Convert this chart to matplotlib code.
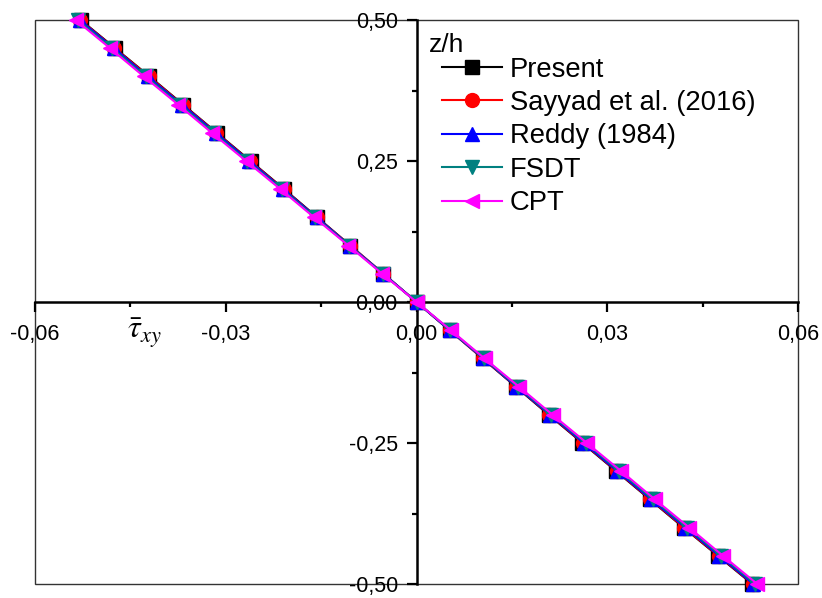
import numpy as np
import matplotlib
matplotlib.use('Agg')
import matplotlib.pyplot as plt
from matplotlib.ticker import FuncFormatter, MultipleLocator
from matplotlib.patches import Rectangle

plt.rcParams['font.family'] = ['Liberation Sans', 'DejaVu Sans']
plt.rcParams['mathtext.fontset'] = 'stix'

# thickness coordinate z/h
z = [0.50, 0.45, 0.40, 0.35, 0.30, 0.25, 0.20, 0.15, 0.10, 0.05, 0.00,
     -0.05, -0.10, -0.15, -0.20, -0.25, -0.30, -0.35, -0.40, -0.45, -0.50]

# shear stress tau_xy for each theory
present = [-0.0528, -0.0474, -0.0420, -0.0367, -0.0314, -0.0261, -0.0208, -0.0156, -0.0104, -0.0052, 0.0,
           0.0052, 0.0104, 0.0156, 0.0208, 0.0261, 0.0314, 0.0367, 0.0420, 0.0474, 0.0528]
sayyad = [-0.0529, -0.0475, -0.0421, -0.0368, -0.0315, -0.0262, -0.0209, -0.0157, -0.0104, -0.0052, 0.0,
          0.0052, 0.0104, 0.0157, 0.0209, 0.0262, 0.0315, 0.0368, 0.0421, 0.0475, 0.0529]
reddy = [-0.0530, -0.0476, -0.0423, -0.0369, -0.0316, -0.0263, -0.0210, -0.0157, -0.0105, -0.0052, 0.0,
         0.0052, 0.0105, 0.0157, 0.0210, 0.0263, 0.0316, 0.0369, 0.0423, 0.0476, 0.0530]
fsdt = [-0.0533, -0.0479, -0.0426, -0.0372, -0.0319, -0.0266, -0.0212, -0.0159, -0.0106, -0.0053, 0.0,
        0.0053, 0.0106, 0.0159, 0.0212, 0.0266, 0.0319, 0.0372, 0.0426, 0.0479, 0.0533]
cpt = [-0.0536, -0.0482, -0.0429, -0.0375, -0.0322, -0.0268, -0.0214, -0.0161, -0.0107, -0.0054, 0.0,
       0.0054, 0.0107, 0.0161, 0.0214, 0.0268, 0.0322, 0.0375, 0.0429, 0.0482, 0.0536]

series = [
    ('Present', present, 'black', 's'),
    ('Sayyad et al. (2016)', sayyad, 'red', 'o'),
    ('Reddy (1984)', reddy, 'blue', '^'),
    ('FSDT', fsdt, '#008080', 'v'),
    ('CPT', cpt, 'magenta', '<'),
]

W, H = 822, 598
fig = plt.figure(figsize=(W / 100, H / 100), dpi=100)
ax = fig.add_axes([35 / W, 1 - 584 / H, (798 - 35) / W, (584 - 20) / H])

for name, vals, col, mk in series:
    ax.plot(vals, z, color=col, marker=mk, markersize=10, linewidth=1.5,
            label=name, clip_on=False, zorder=3)

ax.set_xlim(-0.06, 0.06)
ax.set_ylim(-0.5, 0.5)

# axes crossing at the origin, thin box around
for s in ['top', 'right']:
    ax.spines[s].set_visible(False)
ax.spines['left'].set_position(('data', 0))
ax.spines['bottom'].set_position(('data', 0))
ax.spines['left'].set_linewidth(1.8)
ax.spines['bottom'].set_linewidth(1.8)
ax.add_patch(Rectangle((0, 0), 1, 1, transform=ax.transAxes, fill=False,
                       edgecolor='#333333', linewidth=1.0, clip_on=False, zorder=1))

ax.xaxis.set_major_locator(MultipleLocator(0.03))
ax.xaxis.set_minor_locator(MultipleLocator(0.015))
ax.yaxis.set_major_locator(MultipleLocator(0.25))
ax.yaxis.set_minor_locator(MultipleLocator(0.125))
fmt = FuncFormatter(lambda v, p: f'{v:.2f}'.replace('.', ','))
ax.xaxis.set_major_formatter(fmt)
ax.yaxis.set_major_formatter(fmt)
ax.tick_params(which='major', direction='out', length=7.5, width=1.6, labelsize=15.5, pad=6)
ax.tick_params(which='minor', direction='out', length=3.5, width=1.6)
ax.tick_params(axis='x', which='major', pad=8)

ax.text(0.002, 0.455, 'z/h', fontsize=19, ha='left', va='center')
ax.text(-0.0455, -0.055, r'$\bar{\tau}_{xy}$', fontsize=23, ha='left', va='center')

ax.legend(loc='upper left', bbox_to_anchor=(0.533, 0.935), frameon=False,
          fontsize=19.7, handlelength=2.2, handletextpad=0.3,
          labelspacing=0.27, borderpad=0, borderaxespad=0)

fig.savefig('out.png', dpi=100)
